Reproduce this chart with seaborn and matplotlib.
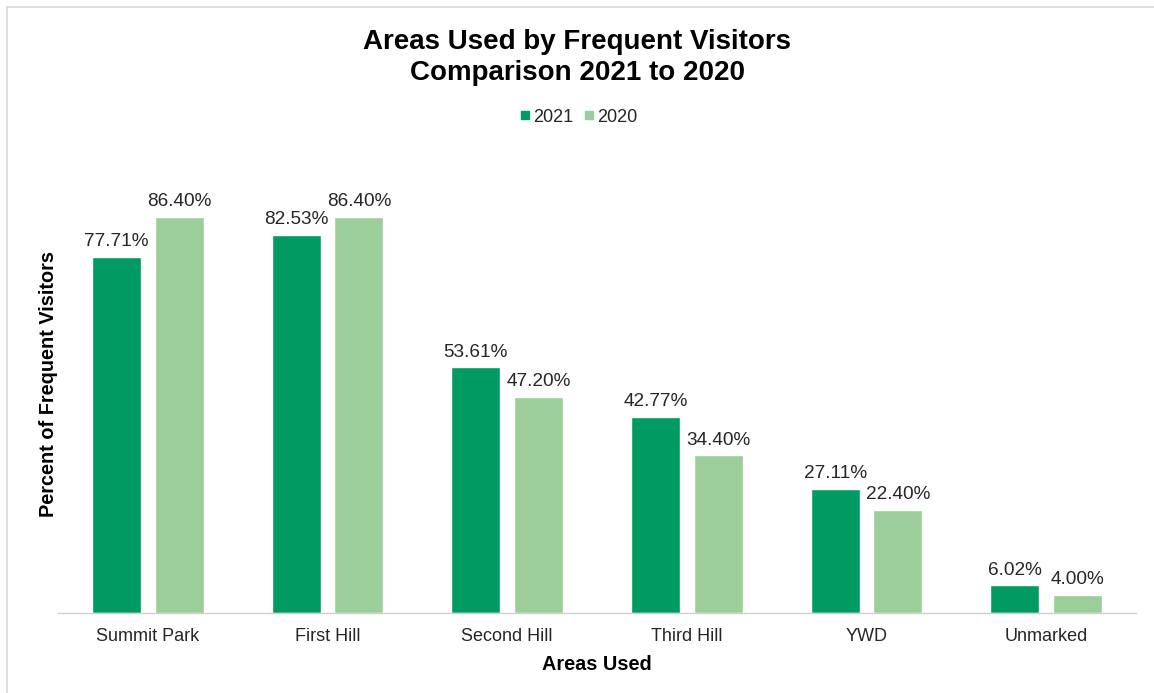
import matplotlib
matplotlib.use("Agg")
import matplotlib.pyplot as plt
from matplotlib.lines import Line2D
import seaborn as sns
import pandas as pd

areas = ["Summit Park", "First Hill", "Second Hill", "Third Hill", "YWD", "Unmarked"]
pct_2021 = [77.71, 82.53, 53.61, 42.77, 27.11, 6.02]
pct_2020 = [86.40, 86.40, 47.20, 34.40, 22.40, 4.00]
years = ["2021", "2020"]

df = pd.DataFrame({
    "Area": areas * 2,
    "Year": [years[0]] * len(areas) + [years[1]] * len(areas),
    "Percent": pct_2021 + pct_2020,
})

sns.set_theme(style="white")
plt.rcParams["font.family"] = ["Liberation Sans", "DejaVu Sans"]

fig = plt.figure(figsize=(11.54, 6.93), dpi=100)
ax = fig.add_axes([0.0503, 0.1154, 0.9341, 0.661])

palette = {"2021": "#009A63", "2020": "#9BCE99"}
sns.barplot(data=df, x="Area", y="Percent", hue="Year", hue_order=years,
            order=areas, palette=palette, width=0.70, gap=0.22,
            saturation=1, ax=ax, legend=False)

for container in ax.containers:
    ax.bar_label(container, labels=[f"{v:.2f}%" for v in container.datavalues],
                 padding=5, fontsize=13.7, color="#262626")

ax.set_ylim(0, 100)
ax.set_xlim(-0.5, len(areas) - 0.5)
ax.set_yticks([])
for side in ("top", "right", "left"):
    ax.spines[side].set_visible(False)
ax.spines["bottom"].set_color("#D0D0D0")
ax.spines["bottom"].set_linewidth(1.0)

ax.tick_params(axis="x", which="major", length=0, labelsize=13,
               labelcolor="#262626", pad=11)
ax.set_xticks([i - 0.5 for i in range(len(areas) + 1)], minor=True)
ax.tick_params(axis="x", which="minor", length=5, color="#D0D0D0", width=1.0)

ax.set_xlabel("Areas Used", fontsize=14.3, fontweight="bold", color="#000000", labelpad=7)
ax.set_ylabel("Percent of Frequent Visitors", fontsize=14.3, fontweight="bold",
              color="#000000", labelpad=0)

fig.text(0.5, 0.940, "Areas Used by Frequent Visitors", ha="center", va="center",
         fontsize=20, fontweight="bold", color="#000000")
fig.text(0.5, 0.894, "Comparison 2021 to 2020", ha="center", va="center",
         fontsize=20, fontweight="bold", color="#000000")

handles = [Line2D([], [], marker="s", linestyle="none", markersize=6,
                  markerfacecolor=palette[y], markeredgecolor=palette[y], label=y)
           for y in years]
fig.legend(handles=handles, loc="center", bbox_to_anchor=(0.5, 0.831), ncol=2,
           frameon=False, fontsize=13, handletextpad=0.0, columnspacing=0.4,
           handlelength=0.9)

# outer chart frame (top and left edges)
fig.add_artist(Line2D([7 / 1154, 1.0], [1 - 6.5 / 693, 1 - 6.5 / 693],
                      transform=fig.transFigure, color="#D9D9D9", linewidth=1.2))
fig.add_artist(Line2D([7 / 1154, 7 / 1154], [0.0, 1 - 6.5 / 693],
                      transform=fig.transFigure, color="#D9D9D9", linewidth=1.2))

fig.savefig("out.png", dpi=100, facecolor="white")
